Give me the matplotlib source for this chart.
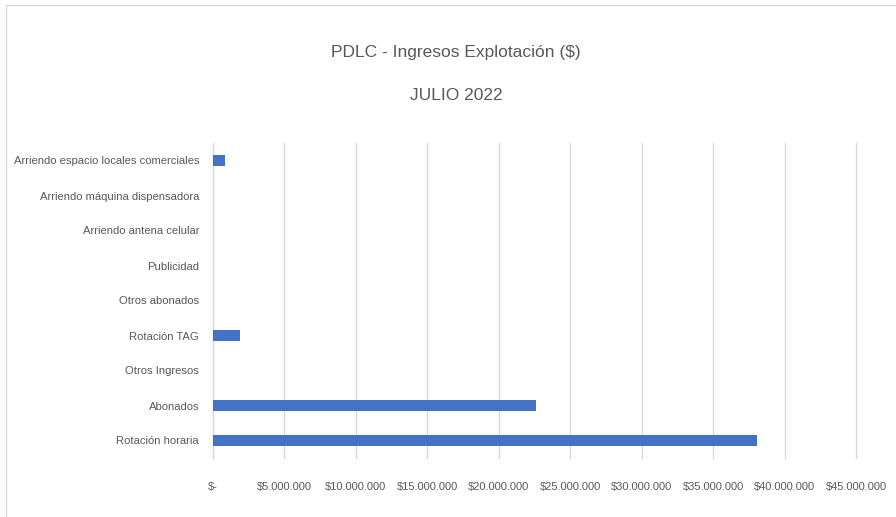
import matplotlib.pyplot as plt
from matplotlib.patches import Rectangle
from matplotlib.ticker import FuncFormatter, MultipleLocator

plt.rcParams['font.family'] = ['Liberation Sans', 'DejaVu Sans']

# categories bottom to top, as drawn
categorias = ['Rotación horaria', 'Abonados', 'Otros Ingresos', 'Rotación TAG',
              'Otros abonados', 'Publicidad', 'Arriendo antena celular',
              'Arriendo máquina dispensadora', 'Arriendo espacio locales comerciales']
ingresos = [38100000, 22600000, 0, 1880000, 0, 0, 0, 0, 840000]

gris = '#595959'

fig = plt.figure(figsize=(8.96, 5.17), dpi=100)
ax = fig.add_axes([213 / 896, 1 - 458 / 517, (856 - 213) / 896, (458 - 143) / 517])

ax.barh(range(len(categorias)), ingresos, height=0.33, color='#4472C4', zorder=3)

ax.set_xlim(0, 45000000)
ax.set_ylim(-0.5, len(categorias) - 0.5)
ax.xaxis.set_major_locator(MultipleLocator(5000000))


def fmt(v, pos):
    if v == 0:
        return '$-'
    return '$' + f'{v:,.0f}'.replace(',', '.')


ax.xaxis.set_major_formatter(FuncFormatter(fmt))
ax.set_yticks(range(len(categorias)))
ax.set_yticklabels(categorias)

ax.grid(axis='x', color='#d9d9d9', linewidth=1, zorder=0)
for gl in ax.get_xgridlines():
    gl.set_clip_on(False)
for s in ['top', 'right', 'bottom']:
    ax.spines[s].set_visible(False)
ax.spines['left'].set_color('#d9d9d9')
ax.tick_params(axis='both', length=0, colors=gris)
ax.tick_params(axis='x', pad=17, labelsize=8)
ax.tick_params(axis='y', pad=10, labelsize=8.1)

fig.text(0.509, 1 - 52 / 517, 'PDLC - Ingresos Explotación ($)', ha='center', va='center',
         fontsize=12.5, color=gris)
fig.text(0.509, 1 - 95 / 517, 'JULIO 2022', ha='center', va='center',
         fontsize=12.5, color=gris)

# chart border
fig.patches.append(Rectangle((6 / 896, -0.01), 1.0, 1 - 5 / 517 + 0.01, transform=fig.transFigure,
                             fill=False, edgecolor='#d9d9d9', linewidth=1))

fig.savefig('out.png', dpi=100)
